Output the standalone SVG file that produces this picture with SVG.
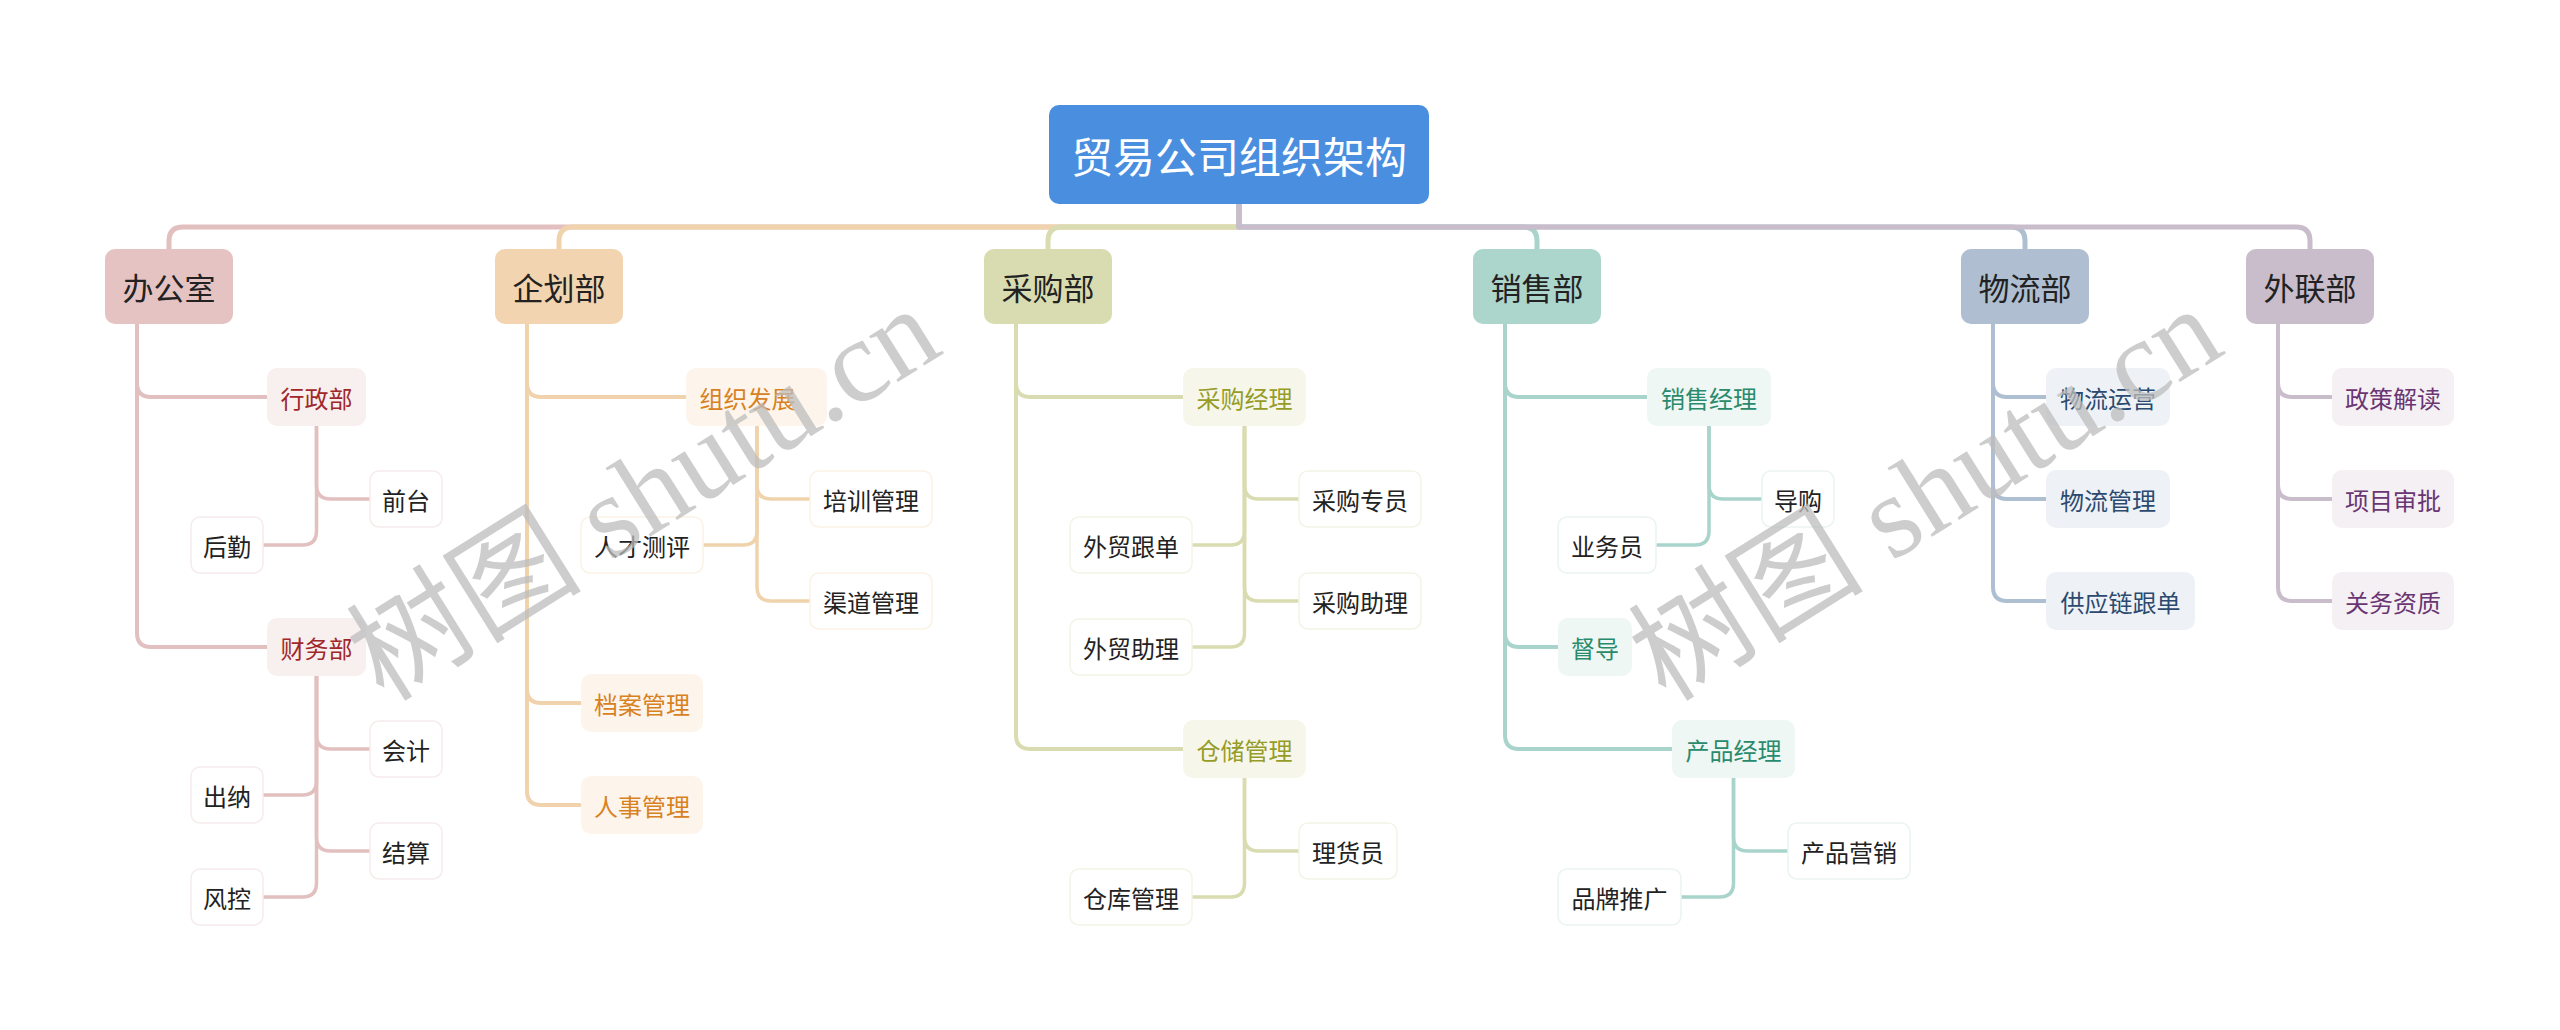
<svg xmlns="http://www.w3.org/2000/svg" width="2560" height="1030" viewBox="0 0 2560 1030">
<style>
text{font-family:"Noto Sans CJK SC","Noto Sans",sans-serif;text-anchor:middle;dominant-baseline:central}
.root rect{fill:#4a8ee0}
.root text{fill:#fff;font-size:42px}
.l1 text{fill:#222;font-size:31px}
.l2 text{font-size:24px}
.leaf rect{fill:#fff;stroke-width:1.5}
.leaf text{fill:#222;font-size:24px}
.c path{fill:none;stroke-linecap:round;stroke-linejoin:round}
.c .b{stroke-width:5}
.c .t{stroke-width:4}
.c .s{stroke-width:3.5}
.p1{stroke:#e3c0c0}.p2{stroke:#f0d3ac}.p3{stroke:#d9dcb0}.p4{stroke:#a9d4cb}.p5{stroke:#aebfd1}.p6{stroke:#c9bccb}
.k1 rect{fill:#f8efef}.k1 text{fill:#a0282a}
.k2 rect{fill:#fdf5ec}.k2 text{fill:#d8821f}
.k3 rect{fill:#f6f7ea}.k3 text{fill:#969c28}
.k4 rect{fill:#eef7f4}.k4 text{fill:#2a8a6c}
.k5 rect{fill:#eef2f6}.k5 text{fill:#2c4a70}
.k6 rect{fill:#f4f0f4}.k6 text{fill:#6a3572}
.q1 rect{stroke:#f6ecec}.q2 rect{stroke:#fbf2e6}.q3 rect{stroke:#f3f4e8}.q4 rect{stroke:#ebf4f2}
.wm{font-family:"Liberation Serif","Noto Sans CJK SC",serif;font-size:118px;fill:#bdbdbd;opacity:0.75;text-anchor:start;dominant-baseline:alphabetic}
</style>
<g class="c" id="connectors">
<path class="b p1" d="M1239 204V227H183Q169 227 169 241V249"/>
<path class="b p2" d="M1239 204V227H573Q559 227 559 241V249"/>
<path class="b p3" d="M1239 204V227H1062Q1048 227 1048 241V249"/>
<path class="b p4" d="M1239 204V227H1523Q1537 227 1537 241V249"/>
<path class="b p5" d="M1239 204V227H2011Q2025 227 2025 241V249"/>
<path class="b p6" d="M1239 204V227H2296Q2310 227 2310 241V249"/>
<path class="t p1" d="M137 324V383Q137 397 151 397H267"/>
<path class="t p1" d="M137 324V633Q137 647 151 647H267"/>
<path class="s p1" d="M316.5 426V485Q316.5 499 330.5 499H370"/>
<path class="s p1" d="M316.5 426V531Q316.5 545 302.5 545H263"/>
<path class="s p1" d="M316.5 676V735Q316.5 749 330.5 749H370"/>
<path class="s p1" d="M316.5 676V781Q316.5 795 302.5 795H263"/>
<path class="s p1" d="M316.5 676V837Q316.5 851 330.5 851H370"/>
<path class="s p1" d="M316.5 676V883Q316.5 897 302.5 897H263"/>
<path class="t p2" d="M527 324V383Q527 397 541 397H686"/>
<path class="t p2" d="M527 324V689Q527 703 541 703H581"/>
<path class="t p2" d="M527 324V791Q527 805 541 805H581"/>
<path class="s p2" d="M757 426V485Q757 499 771 499H810"/>
<path class="s p2" d="M757 426V531Q757 545 743 545H703"/>
<path class="s p2" d="M757 426V587Q757 601 771 601H810"/>
<path class="t p3" d="M1016 324V383Q1016 397 1030 397H1183"/>
<path class="t p3" d="M1016 324V735Q1016 749 1030 749H1183"/>
<path class="s p3" d="M1244.5 426V485Q1244.5 499 1258.5 499H1299"/>
<path class="s p3" d="M1244.5 426V531Q1244.5 545 1230.5 545H1192"/>
<path class="s p3" d="M1244.5 426V587Q1244.5 601 1258.5 601H1299"/>
<path class="s p3" d="M1244.5 426V633Q1244.5 647 1230.5 647H1192"/>
<path class="s p3" d="M1244.5 778V837Q1244.5 851 1258.5 851H1299"/>
<path class="s p3" d="M1244.5 778V883Q1244.5 897 1230.5 897H1192"/>
<path class="t p4" d="M1505 324V383Q1505 397 1519 397H1647"/>
<path class="t p4" d="M1505 324V633Q1505 647 1519 647H1558"/>
<path class="t p4" d="M1505 324V735Q1505 749 1519 749H1672"/>
<path class="s p4" d="M1709 426V485Q1709 499 1723 499H1762"/>
<path class="s p4" d="M1709 426V531Q1709 545 1695 545H1656"/>
<path class="s p4" d="M1733.5 778V837Q1733.5 851 1747.5 851H1788"/>
<path class="s p4" d="M1733.5 778V883Q1733.5 897 1719.5 897H1681"/>
<path class="t p5" d="M1993 324V383Q1993 397 2007 397H2046"/>
<path class="t p5" d="M1993 324V485Q1993 499 2007 499H2046"/>
<path class="t p5" d="M1993 324V587Q1993 601 2007 601H2046"/>
<path class="t p6" d="M2278 324V383Q2278 397 2292 397H2332"/>
<path class="t p6" d="M2278 324V485Q2278 499 2292 499H2332"/>
<path class="t p6" d="M2278 324V587Q2278 601 2292 601H2332"/>
</g>
<g id="root" class="root"><rect x="1049" y="105" width="380" height="99" rx="10"/><text x="1239" y="154.5">贸易公司组织架构</text></g>
<g id="n-bgs" class="l1"><rect x="105" y="249" width="128" height="75" rx="10" fill="#e6c3c3"/><text x="169" y="286.5">办公室</text></g>
<g id="n-qh" class="l1"><rect x="495" y="249" width="128" height="75" rx="10" fill="#f2d5b0"/><text x="559" y="286.5">企划部</text></g>
<g id="n-cg" class="l1"><rect x="984" y="249" width="128" height="75" rx="10" fill="#d9dcb0"/><text x="1048" y="286.5">采购部</text></g>
<g id="n-xs" class="l1"><rect x="1473" y="249" width="128" height="75" rx="10" fill="#acd5cc"/><text x="1537" y="286.5">销售部</text></g>
<g id="n-wl" class="l1"><rect x="1961" y="249" width="128" height="75" rx="10" fill="#afbfd1"/><text x="2025" y="286.5">物流部</text></g>
<g id="n-wlb" class="l1"><rect x="2246" y="249" width="128" height="75" rx="10" fill="#c9bccb"/><text x="2310" y="286.5">外联部</text></g>

<g id="n-xzb" class="l2 k1"><rect x="267" y="368" width="99" height="58" rx="10"/><text x="316.5" y="397">行政部</text></g>
<g id="n-qt" class="leaf q1"><rect x="370" y="471" width="72" height="56" rx="9"/><text x="406" y="499">前台</text></g>
<g id="n-hq" class="leaf q1"><rect x="191" y="517" width="72" height="56" rx="9"/><text x="227" y="545">后勤</text></g>
<g id="n-cwb" class="l2 k1"><rect x="267" y="618" width="99" height="58" rx="10"/><text x="316.5" y="647">财务部</text></g>
<g id="n-kj" class="leaf q1"><rect x="370" y="721" width="72" height="56" rx="9"/><text x="406" y="749">会计</text></g>
<g id="n-cn" class="leaf q1"><rect x="191" y="767" width="72" height="56" rx="9"/><text x="227" y="795">出纳</text></g>
<g id="n-js" class="leaf q1"><rect x="370" y="823" width="72" height="56" rx="9"/><text x="406" y="851">结算</text></g>
<g id="n-fk" class="leaf q1"><rect x="191" y="869" width="72" height="56" rx="9"/><text x="227" y="897">风控</text></g>

<g id="n-zzfz" class="l2 k2"><rect x="686" y="368" width="141" height="58" rx="10"/><text x="747.5" y="397">组织发展</text></g>
<g id="n-pxgl" class="leaf q2"><rect x="810" y="471" width="122" height="56" rx="9"/><text x="871" y="499">培训管理</text></g>
<g id="n-rccp" class="leaf q2"><rect x="581" y="517" width="122" height="56" rx="9"/><text x="642" y="545">人才测评</text></g>
<g id="n-qdgl" class="leaf q2"><rect x="810" y="573" width="122" height="56" rx="9"/><text x="871" y="601">渠道管理</text></g>
<g id="n-dagl" class="l2 k2"><rect x="581" y="674" width="122" height="58" rx="10"/><text x="642" y="703">档案管理</text></g>
<g id="n-rsgl" class="l2 k2"><rect x="581" y="776" width="122" height="58" rx="10"/><text x="642" y="805">人事管理</text></g>

<g id="n-cgjl" class="l2 k3"><rect x="1183" y="368" width="123" height="58" rx="10"/><text x="1244.5" y="397">采购经理</text></g>
<g id="n-cgzy" class="leaf q3"><rect x="1299" y="471" width="122" height="56" rx="9"/><text x="1360" y="499">采购专员</text></g>
<g id="n-wmgd" class="leaf q3"><rect x="1070" y="517" width="122" height="56" rx="9"/><text x="1131" y="545">外贸跟单</text></g>
<g id="n-cgzl" class="leaf q3"><rect x="1299" y="573" width="122" height="56" rx="9"/><text x="1360" y="601">采购助理</text></g>
<g id="n-wmzl" class="leaf q3"><rect x="1070" y="619" width="122" height="56" rx="9"/><text x="1131" y="647">外贸助理</text></g>
<g id="n-ccgl" class="l2 k3"><rect x="1183" y="720" width="123" height="58" rx="10"/><text x="1244.5" y="749">仓储管理</text></g>
<g id="n-lhy" class="leaf q3"><rect x="1299" y="823" width="98" height="56" rx="9"/><text x="1348" y="851">理货员</text></g>
<g id="n-ckgl" class="leaf q3"><rect x="1070" y="869" width="122" height="56" rx="9"/><text x="1131" y="897">仓库管理</text></g>

<g id="n-xsjl" class="l2 k4"><rect x="1647" y="368" width="124" height="58" rx="10"/><text x="1709" y="397">销售经理</text></g>
<g id="n-dg" class="leaf q4"><rect x="1762" y="471" width="72" height="56" rx="9"/><text x="1798" y="499">导购</text></g>
<g id="n-ywy" class="leaf q4"><rect x="1558" y="517" width="98" height="56" rx="9"/><text x="1607" y="545">业务员</text></g>
<g id="n-dd" class="l2 k4"><rect x="1558" y="618" width="74" height="58" rx="10"/><text x="1595" y="647">督导</text></g>
<g id="n-cpjl" class="l2 k4"><rect x="1672" y="720" width="123" height="58" rx="10"/><text x="1733.5" y="749">产品经理</text></g>
<g id="n-cpyx" class="leaf q4"><rect x="1788" y="823" width="122" height="56" rx="9"/><text x="1849" y="851">产品营销</text></g>
<g id="n-pptg" class="leaf q4"><rect x="1558" y="869" width="123" height="56" rx="9"/><text x="1619.5" y="897">品牌推广</text></g>

<g id="n-wlyy" class="l2 k5"><rect x="2046" y="368" width="124" height="58" rx="10"/><text x="2108" y="397">物流运营</text></g>
<g id="n-wlgl" class="l2 k5"><rect x="2046" y="470" width="124" height="58" rx="10"/><text x="2108" y="499">物流管理</text></g>
<g id="n-gyl" class="l2 k5"><rect x="2046" y="572" width="149" height="58" rx="10"/><text x="2120.5" y="601">供应链跟单</text></g>

<g id="n-zcjd" class="l2 k6"><rect x="2332" y="368" width="122" height="58" rx="10"/><text x="2393" y="397">政策解读</text></g>
<g id="n-xmsp" class="l2 k6"><rect x="2332" y="470" width="122" height="58" rx="10"/><text x="2393" y="499">项目审批</text></g>
<g id="n-gwzz" class="l2 k6"><rect x="2332" y="572" width="122" height="58" rx="10"/><text x="2393" y="601">关务资质</text></g>

<g id="watermark">
<text class="wm" transform="translate(384 703) rotate(-32)">树图 shutu.cn</text>
<text class="wm" transform="translate(1666 703) rotate(-32)">树图 shutu.cn</text>
</g>
</svg>
